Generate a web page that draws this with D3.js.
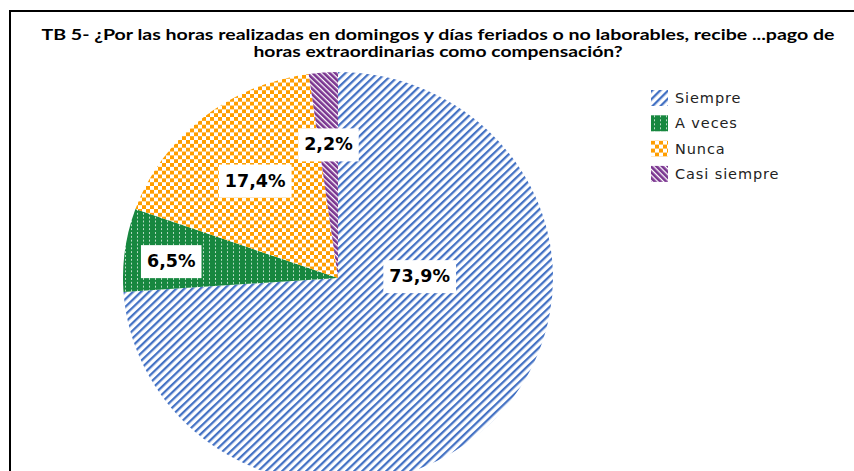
<!DOCTYPE html>
<html>
<head>
<meta charset="utf-8">
<script src="https://cdn.jsdelivr.net/npm/d3@7"></script>
<style>
  html, body { margin: 0; padding: 0; background: #fff; }
  svg { display: block; }
</style>
</head>
<body>
<svg id="chart" width="854" height="471"></svg>
<script>
// ---- data ----
const categories = ["Siempre", "A veces", "Nunca", "Casi siempre"];
const counts = [34, 3, 8, 1];
const titleLines = [
  "TB 5- ¿Por las horas realizadas en domingos y días feriados o no laborables, recibe ...pago de",
  "horas extraordinarias como compensación?"
];

// ---- layout / style ----
const W = 854, H = 471;
const cx = 338, cy = 278, rx = 215, ry = 206;
const colors = ["#4472C4", "#17873F", "#FF9E00", "#7A3590"];
const labelFrac = [0.38, 0.78, 0.61, 0.65];
const labelAngleShift = [-44.4, -1.8, 0, 0];

const svg = d3.select("#chart");
svg.append("rect").attr("width", W).attr("height", H).attr("fill", "#fff");

// patterns
const defs = svg.append("defs");
// Siempre: blue "/" stripes
const p0 = defs.append("pattern").attr("id", "pat0").attr("patternUnits", "userSpaceOnUse")
  .attr("width", 5.66).attr("height", 10).attr("patternTransform", "rotate(45)");
p0.append("rect").attr("width", 5.66).attr("height", 10).attr("fill", "#fff");
p0.append("rect").attr("width", 2.3).attr("height", 10).attr("fill", colors[0]);
// A veces: green with small white dashes
const p1 = defs.append("pattern").attr("id", "pat1").attr("patternUnits", "userSpaceOnUse")
  .attr("width", 6).attr("height", 4);
p1.append("rect").attr("width", 6).attr("height", 4).attr("fill", colors[1]);
p1.append("rect").attr("x", 3).attr("y", 0).attr("width", 1).attr("height", 2).attr("fill", "#fff").attr("opacity", 0.7);
// Nunca: orange checkerboard
const p2 = defs.append("pattern").attr("id", "pat2").attr("patternUnits", "userSpaceOnUse")
  .attr("width", 8).attr("height", 8);
p2.append("rect").attr("width", 8).attr("height", 8).attr("fill", "#fff");
p2.append("rect").attr("x", 0).attr("y", 0).attr("width", 4).attr("height", 4).attr("fill", colors[2]);
p2.append("rect").attr("x", 4).attr("y", 4).attr("width", 4).attr("height", 4).attr("fill", colors[2]);
// Casi siempre: purple "\" stripes
const p3 = defs.append("pattern").attr("id", "pat3").attr("patternUnits", "userSpaceOnUse")
  .attr("width", 4).attr("height", 10).attr("patternTransform", "rotate(-45)");
p3.append("rect").attr("width", 4).attr("height", 10).attr("fill", "#fff");
p3.append("rect").attr("width", 2.7).attr("height", 10).attr("fill", colors[3]);

// border
svg.append("rect").attr("x", 10).attr("y", 11).attr("width", 900).attr("height", 600)
  .attr("fill", "none").attr("stroke", "#000").attr("stroke-width", 2);

// title
const titleFont = "Lato, 'DejaVu Sans Condensed', sans-serif";
const tl = [{t: titleLines[0], y: 40, len: 793}, {t: titleLines[1], y: 57, len: 369}];
svg.selectAll("text.title").data(tl).join("text")
  .attr("class", "title")
  .attr("x", 438).attr("y", d => d.y)
  .attr("text-anchor", "middle")
  .attr("font-family", titleFont)
  .attr("font-weight", "bold")
  .attr("font-size", 15)
  .attr("fill", "#000")
  .attr("textLength", d => d.len)
  .attr("lengthAdjust", "spacingAndGlyphs")
  .text(d => d.t);

// pie
const total = d3.sum(counts);
const pie = d3.pie().sort(null).value(d => d)(counts);
const arc = d3.arc().innerRadius(0).outerRadius(rx);
const g = svg.append("g").attr("transform", `translate(${cx},${cy}) scale(1,${ry / rx})`);
g.selectAll("path").data(pie).join("path")
  .attr("d", arc)
  .attr("fill", (d, i) => `url(#pat${i})`);

// labels
const fmt = v => (v / total * 100).toFixed(1).replace(".", ",") + "%";
const lg = svg.append("g");
pie.forEach((d, i) => {
  const mid = (d.startAngle + d.endAngle) / 2 + labelAngleShift[i] * Math.PI / 180;
  const r = labelFrac[i] * rx;
  const x = cx + r * Math.sin(mid);
  const y = cy - r * Math.cos(mid) * (ry / rx);
  const grp = lg.append("g");
  const t = grp.append("text")
    .attr("x", x).attr("y", y)
    .attr("text-anchor", "middle")
    .attr("dominant-baseline", "central")
    .attr("font-family", "'DejaVu Sans', Verdana, sans-serif")
    .attr("font-weight", "bold")
    .attr("font-size", 17.5)
    .attr("fill", "#000")
    .text(fmt(counts[i]));
  const bb = t.node().getBBox();
  grp.insert("rect", "text")
    .attr("x", bb.x - 6).attr("y", y - 16)
    .attr("width", bb.width + 12).attr("height", 33)
    .attr("fill", "#fff");
});

// legend
const leg = svg.append("g").attr("transform", "translate(651,98)");
categories.forEach((c, i) => {
  const row = leg.append("g").attr("transform", `translate(0,${i * 25.3})`);
  row.append("rect").attr("x", 0).attr("y", -8).attr("width", 17).attr("height", 16)
    .attr("fill", `url(#pat${i})`);
  row.append("text").attr("x", 24).attr("y", 0)
    .attr("dominant-baseline", "central")
    .attr("font-family", "'DejaVu Sans', Verdana, sans-serif")
    .attr("font-size", 14.5)
    .attr("letter-spacing", 0.9)
    .attr("fill", "#222")
    .text(c);
});
</script>
</body>
</html>
